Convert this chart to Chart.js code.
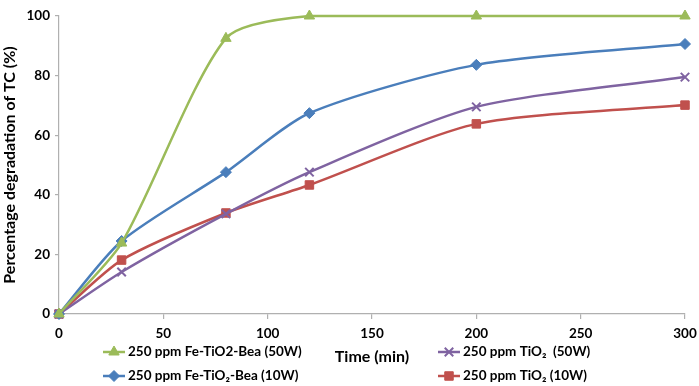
<!DOCTYPE html>
<html>
<head>
<meta charset="utf-8">
<script src="https://cdn.jsdelivr.net/npm/chart.js@4"></script>
<style>
  html, body { margin: 0; padding: 0; background: #fff; }
  #wrap { width: 699px; height: 386px; }
</style>
</head>
<body>
<div id="wrap"><canvas id="tcChart" width="699" height="386"></canvas></div>
<script>
// time points (min)
const times = [0, 30, 80, 120, 200, 300];
const feBea50W = [0, 23.8, 92.5, 100, 100, 100];
const feBea10W = [0, 24.5, 47.6, 67.4, 83.6, 90.6];
const tio2_50W = [0, 14.1, 33.6, 47.6, 69.5, 79.5];
const tio2_10W = [0, 18.1, 33.9, 43.3, 63.8, 70.1];
const seriesNames = [
  "250 ppm Fe-TiO2-Bea (50W)",
  "250 ppm Fe-TiO\u2082-Bea (10W)",
  "250 ppm TiO\u2082  (50W)",
  "250 ppm TiO\u2082 (10W)"
];
const xTicks = [0, 50, 100, 150, 200, 250, 300];
const yTicks = [0, 20, 40, 60, 80, 100];

const color = {
  Green: '#9bbb59',
  Blue: '#4a7ebb',
  Purple: '#7f63a1',
  Red: '#c0504d'
};
const FONT = 'Lato, "Open Sans", sans-serif';

function pts(arr) {
  return times.map((t, i) => ({x: t, y: arr[i]}));
}

function makeSet(label, arr, col, style, r) {
  return {
    label: label,
    data: pts(arr),
    borderColor: col,
    backgroundColor: col,
    pointStyle: style,
    pointRadius: r,
    pointBorderWidth: style == 'crossRot' ? 2 : 1,
    borderWidth: 2.5,
    tension: 0.25,
    clip: false
  };
}

// custom legend + x-axis title under the plot
const legendPlugin = {
  id: 'bottomLegend',
  afterDraw(chart) {
    const ctx = chart.ctx;
    const ds = chart.data.datasets;
    const spots = [
      {i: 0, x: 103, y: 352},
      {i: 1, x: 103, y: 376},
      {i: 2, x: 438, y: 352},
      {i: 3, x: 438, y: 376}
    ];
    ctx.save();
    spots.forEach(s => {
      const d = ds[s.i];
      ctx.strokeStyle = d.borderColor;
      ctx.fillStyle = d.backgroundColor;
      ctx.lineWidth = 2.5;
      ctx.beginPath();
      ctx.moveTo(s.x, s.y);
      ctx.lineTo(s.x + 22, s.y);
      ctx.stroke();
      ctx.lineWidth = d.pointBorderWidth;
      Chart.helpers.drawPoint(ctx, {
        pointStyle: d.pointStyle,
        radius: d.pointRadius,
        borderWidth: d.pointBorderWidth,
        rotation: 0
      }, s.x + 11, s.y);
      ctx.fillStyle = '#000';
      ctx.font = 'bold 13.5px ' + FONT;
      ctx.textBaseline = 'middle';
      ctx.textAlign = 'left';
      ctx.fillText(d.label, s.x + 25, s.y);
    });
    ctx.font = 'bold 16px ' + FONT;
    ctx.textAlign = 'center';
    ctx.fillText('Time (min)', 372, 357);
    ctx.restore();
  }
};

const tcChartData = {
  datasets: [
    makeSet(seriesNames[0], feBea50W, color.Green, 'triangle', 6),
    makeSet(seriesNames[1], feBea10W, color.Blue, 'rectRot', 5.5),
    makeSet(seriesNames[2], tio2_50W, color.Purple, 'crossRot', 6),
    makeSet(seriesNames[3], tio2_10W, color.Red, 'rect', 6)
  ]
};

const tcChartConfig = {
  type: 'line',
  data: tcChartData,
  options: {
    responsive: false,
    animation: false,
    layout: { padding: { top: 16, right: 1, left: 0, bottom: 0 } },
    plugins: {
      legend: { display: false },
      tooltip: { enabled: false }
    },
    scales: {
      x: {
        type: 'linear',
        min: 0,
        max: 300,
        afterBuildTicks: (s) => { s.ticks = xTicks.map(v => ({value: v})); },
        afterFit: (s) => { s.height = 72; s.paddingRight = 14; },
        ticks: {
          color: '#000',
          font: { family: FONT, size: 13.5, weight: 'bold' },
          padding: 7,
          maxRotation: 0
        },
        grid: { display: true, drawOnChartArea: false, tickLength: 5, color: '#b0b0b0', lineWidth: 1.2 },
        border: { color: '#b0b0b0', width: 1.2 }
      },
      y: {
        min: 0,
        max: 100,
        afterBuildTicks: (s) => { s.ticks = yTicks.map(v => ({value: v})); },
        afterFit: (s) => { s.width = 59; },
        ticks: {
          color: '#000',
          font: { family: FONT, size: 13.5, weight: 'bold' },
          padding: 5
        },
        title: {
          display: true,
          text: 'Percentage degradation of TC (%)',
          color: '#000',
          font: { family: FONT, size: 16, weight: 'bold' },
          padding: 0
        },
        grid: { display: true, drawOnChartArea: false, tickLength: 4, color: '#b0b0b0', lineWidth: 1.2 },
        border: { color: '#b0b0b0', width: 1.2 }
      }
    }
  },
  plugins: [legendPlugin]
};

const tcChart = new Chart(document.getElementById('tcChart'), tcChartConfig);
</script>
</body>
</html>
